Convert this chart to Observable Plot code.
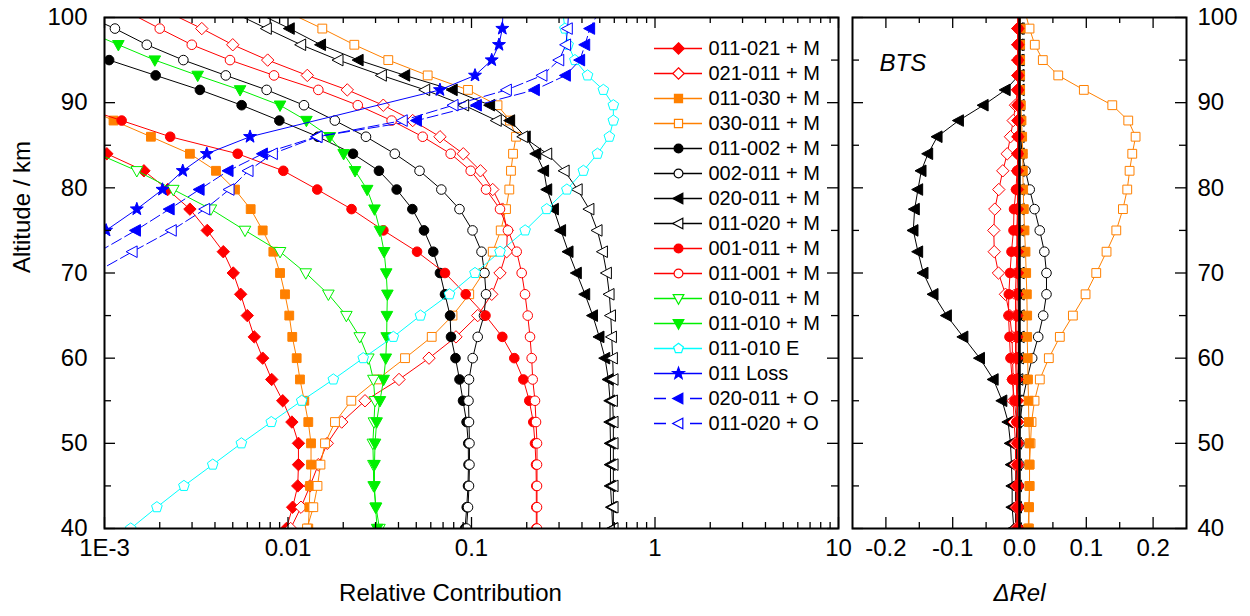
<!DOCTYPE html>
<html><head><meta charset="utf-8">
<script src="https://cdn.jsdelivr.net/npm/d3@7"></script>
<script src="https://cdn.jsdelivr.net/npm/@observablehq/plot@0.6"></script>
<style>
html,body{margin:0;padding:0;background:#fff;}
#wrap{position:relative;width:1250px;height:616px;overflow:hidden;background:#fff;}
</style></head><body><div id="wrap"></div>
<script>
// ---------- DATA ----------
const altitude = [40,42.5,45,47.5,50,52.5,55,57.5,60,62.5,65,67.5,70,72.5,75,77.5,79.8,82,84,86,87.9,89.7,91.5,93.2,95,96.8,98.7,100.5];

// Relative contribution (left panel), one value per altitude (null = not drawn)
const rel_011_021_M = [0.0098,0.0106,0.0113,0.0114,0.0114,0.0105,0.00936,0.00815,0.00728,0.00655,0.0060,0.00552,0.00503,0.00444,0.00363,0.00292,0.00221,0.00164,0.00103,0.00061,0.00036,null,null,null,null,null,null,null];
const rel_021_011_M = [0.01034,0.01177,0.01318,0.01463,0.01637,0.01962,0.02628,0.04027,0.05868,0.0823,0.1081,0.1289,0.143,0.1555,0.1567,0.1476,0.1305,0.1119,0.0902,0.06735,0.04781,0.03306,0.02104,0.01274,0.00775,0.005,0.00339,0.00228];
const rel_011_030_M = [0.0129,0.01306,0.01318,0.01335,0.01335,0.0129,0.01227,0.01162,0.01115,0.01055,0.01016,0.00963,0.00905,0.00832,0.00728,0.00626,0.00514,0.00405,0.00292,0.00179,0.00112,0.00074,null,null,null,null,null,null];
const rel_030_011_M = [0.01269,0.01374,0.01448,0.01503,0.01591,0.01803,0.02213,0.03074,0.04341,0.0607,0.0788,0.0972,0.116,0.1305,0.1443,0.1542,0.1607,0.1641,0.1684,0.1748,0.1621,0.1386,0.0957,0.0577,0.0352,0.02298,0.01538,0.01025];
const rel_011_002_M = [0.0922,0.0942,0.0957,0.0963,0.096,0.094,0.0899,0.086,0.0818,0.0773,0.0764,0.0717,0.0673,0.0619,0.0551,0.0476,0.0391,0.0313,0.0226,0.01457,0.00897,0.00559,0.00331,0.0019,0.00106,0.00059,null,null];
const rel_002_011_M = [0.0939,0.0957,0.0969,0.0975,0.0975,0.0969,0.0963,0.0969,0.1015,0.1081,0.117,0.12,0.1177,0.1134,0.1013,0.086,0.0685,0.0521,0.0382,0.0266,0.018,0.01222,0.00765,0.00458,0.00269,0.0017,0.00114,0.00074];
const rel_020_011_M = [0.588,0.581,0.572,0.572,0.572,0.569,0.569,0.557,0.534,0.497,0.458,0.4155,0.374,0.337,0.307,0.2805,0.258,0.248,0.2247,0.197,0.162,0.126,0.0788,0.0434,0.0242,0.0151,0.0102,0.00686];
const rel_011_020_M = [0.593,0.593,0.593,0.593,0.593,0.593,0.588,0.593,0.588,0.581,0.574,0.564,0.5455,0.519,0.485,0.438,0.378,0.321,0.258,0.191,0.137,0.091,0.0558,0.0324,0.0188,0.01177,0.00765,0.00514];
const rel_001_011_M = [0.2255,0.2255,0.2255,0.2247,0.2218,0.2171,0.2065,0.1916,0.1711,0.1472,0.1192,0.093,0.0717,0.0505,0.0331,0.0222,0.01443,0.00943,0.00532,0.00228,0.00124,0.00069,null,null,null,null,null,null];
const rel_011_001_M = [0.2275,0.2275,0.2275,0.2275,0.2275,0.2247,0.2218,0.2155,0.2128,0.2084,0.2025,0.1957,0.1877,0.1763,0.158,0.143,0.12,0.099,0.077,0.0542,0.0367,0.024,0.01463,0.00839,0.00483,0.00299,0.002,0.00138];
const rel_010_011_M = [0.0315,0.0302,0.0293,0.0292,0.029,0.0294,0.0298,0.0292,0.0274,0.0246,0.0208,0.0166,0.0125,0.00905,0.00583,0.0038,0.00237,0.0015,0.00092,0.00057,null,null,null,null,null,null,null,null];
const rel_011_010_M = [0.0306,0.03,0.0296,0.0296,0.0298,0.0304,0.0317,0.0332,0.0341,0.0345,0.0346,0.0348,0.0343,0.0334,0.0317,0.0296,0.027,0.0232,0.0201,0.0169,0.0126,0.00905,0.00548,0.00322,0.00188,0.00119,0.00074,null];
const rel_011_010_E = [0.00139,0.00193,0.00271,0.00389,0.00557,0.00811,0.01188,0.01766,0.0257,0.0375,0.0527,0.0759,0.1045,0.143,0.196,0.257,0.331,0.407,0.486,0.564,0.593,0.593,0.523,0.429,0.366,0.336,0.323,0.315];
const rel_011_Loss  = [null,null,null,null,null,null,null,null,null,null,null,null,null,0.00069,0.00102,0.0015,0.00207,0.00267,0.00361,0.00621,null,null,0.0673,0.1045,0.1289,0.1412,0.1472,0.1484];
const rel_020_011_O = [null,null,null,null,null,null,null,null,null,null,null,null,null,0.00093,0.00148,0.00226,0.00329,0.00473,0.00728,0.01434,0.0503,0.1067,0.221,0.326,0.39,0.4155,0.442,0.489];
const rel_011_020_O = [null,null,null,null,null,null,null,null,null,null,null,null,0.00088,0.00142,0.00232,0.00353,0.00479,0.00608,0.00825,0.01448,0.0421,0.0796,0.1555,0.243,0.30,0.327,0.334,0.338];

// Delta relative contribution, BTS (right panel)
const d_011_021_M = [-0.003,-0.003,-0.003,-0.003,-0.003,-0.003,-0.003,-0.0035,-0.004,-0.004,-0.004,-0.0035,-0.003,-0.003,-0.003,-0.003,-0.003,-0.003,-0.003,-0.0025,-0.0025,-0.0025,-0.0025,-0.0025,-0.0025,-0.0025,-0.0025,-0.0025];
const d_021_011_M = [-0.005,-0.005,-0.005,-0.006,-0.006,-0.008,-0.0094,-0.0094,-0.0105,-0.0112,-0.0145,-0.021,-0.0315,-0.0378,-0.0385,-0.037,-0.031,-0.025,-0.0184,-0.0135,-0.0094,-0.006,-0.003,-0.002,-0.002,-0.002,-0.002,-0.002];
const d_011_030_M = [0.013,0.014,0.015,0.015,0.015,0.014,0.0135,0.0127,0.0123,0.0115,0.0115,0.011,0.010,0.009,0.0075,0.0065,0.0055,0.005,0.005,0.004,0.003,0.002,0.001,0.001,0.001,0.001,0.001,0.001];
const d_030_011_M = [0.0142,0.0142,0.015,0.015,0.0165,0.018,0.0225,0.0304,0.0439,0.0604,0.0799,0.0989,0.1149,0.1303,0.1449,0.1548,0.1613,0.1648,0.1688,0.1738,0.1628,0.1389,0.0963,0.058,0.0349,0.0229,0.015,0.009];
const d_011_002_M = [-0.006,-0.006,-0.006,-0.005,-0.005,-0.004,-0.003,-0.002,-0.001,-0.001,-0.001,-0.001,-0.001,-0.001,-0.001,-0.001,-0.001,-0.001,-0.001,-0.001,-0.001,-0.001,-0.001,-0.001,-0.001,-0.001,-0.001,-0.001];
const d_002_011_M = [-0.001,-0.001,-0.001,0,0,0.001,0.0045,0.0112,0.019,0.028,0.0355,0.0404,0.0404,0.0372,0.0303,0.0225,0.0153,0.009,0.0037,0.002,0.001,0,0,0,0,0,0,0];
const d_020_011_M = [-0.0085,-0.011,-0.011,-0.012,-0.0135,-0.017,-0.026,-0.039,-0.0595,-0.0843,-0.109,-0.129,-0.144,-0.152,-0.159,-0.157,-0.152,-0.147,-0.137,-0.123,-0.091,-0.054,-0.021,-0.001,-0.002,-0.002,-0.002,-0.002];
const d_011_020_M = [-0.004,-0.004,-0.004,-0.004,-0.004,-0.004,-0.003,-0.002,-0.001,0,0,0,0,0,0,0,0,0,0,0,0,0,0,0,0,0,0,0];
const d_001_011_M = [-0.002,-0.002,-0.002,-0.003,-0.003,-0.0045,-0.0075,-0.011,-0.0135,-0.015,-0.0165,-0.016,-0.0142,-0.012,-0.009,-0.0082,-0.0052,-0.0037,-0.002,-0.002,-0.002,-0.002,-0.002,-0.002,-0.002,-0.002,-0.002,-0.002];
const d_011_001_M = [-0.002,-0.002,-0.002,-0.002,-0.002,-0.003,-0.004,-0.005,-0.006,-0.006,-0.006,-0.006,-0.005,-0.004,-0.004,-0.003,-0.003,-0.002,-0.002,-0.002,-0.002,-0.002,-0.002,-0.002,-0.002,-0.002,-0.002,-0.002];

// Series legend / styling
const seriesNames   = ["011-021 + M","021-011 + M","011-030 + M","030-011 + M","011-002 + M","002-011 + M","020-011 + M","011-020 + M","001-011 + M","011-001 + M","010-011 + M","011-010 + M","011-010 E","011 Loss","020-011 + O","011-020 + O"];
const seriesColors  = ["#ff0000","#ff0000","#ff8000","#ff8000","#000000","#000000","#000000","#000000","#ff0000","#ff0000","#00f000","#00f000","#00ffff","#0000ff","#0000ff","#0000ff"];
const seriesSymbols = ["diamond","diamond","square","square","circle","circle","triLeft","triLeft","circle","circle","triDown","triDown","pentagon","star","triLeft","triLeft"];
const seriesFilled  = [true,false,true,false,true,false,true,false,true,false,false,true,false,true,true,false];
const seriesDashed  = [false,false,false,false,false,false,false,false,false,false,false,false,false,false,true,true];
const relValues = [rel_011_021_M,rel_021_011_M,rel_011_030_M,rel_030_011_M,rel_011_002_M,rel_002_011_M,rel_020_011_M,rel_011_020_M,rel_001_011_M,rel_011_001_M,rel_010_011_M,rel_011_010_M,rel_011_010_E,rel_011_Loss,rel_020_011_O,rel_011_020_O];
// right panel: series index -> values (drawing order)
const deltaOrder  = [7,4,6,5,3,1,9,2,8,0];
const deltaValues = {0:d_011_021_M,1:d_021_011_M,2:d_011_030_M,3:d_030_011_M,4:d_011_002_M,5:d_002_011_M,6:d_020_011_M,7:d_011_020_M,8:d_001_011_M,9:d_011_001_M};

// Ticks
const xMajorTicks  = [0.001,0.01,0.1,1,10];
const xMajorLabels = ["1E-3","0.01","0.1","1","10"];
const xMinorTicks  = [0.002,0.003,0.004,0.005,0.006,0.007,0.008,0.009,0.02,0.03,0.04,0.05,0.06,0.07,0.08,0.09,0.2,0.3,0.4,0.5,0.6,0.7,0.8,0.9,2,3,4,5,6,7,8,9];
const altMajorTicks = [40,50,60,70,80,90,100];
const altMinorTicks = [45,55,65,75,85,95];
const dMajorTicks  = [-0.2,-0.1,0,0.1,0.2];
const dMajorLabels = ["-0.2","-0.1","0.0","0.1","0.2"];
const dMinorTicks  = [-0.15,-0.05,0.05,0.15];

// ---------- SYMBOLS ----------
function mk(fn){ return {draw(ctx, size){ const k = Math.sqrt(size/Math.PI)/5; fn(ctx,k); }}; }
const SYM = {
  circle: mk((c,k)=>{ c.moveTo(4.8*k,0); c.arc(0,0,4.8*k,0,2*Math.PI); }),
  square: mk((c,k)=>{ c.rect(-4.4*k,-4.4*k,8.8*k,8.8*k); }),
  diamond: mk((c,k)=>{ c.moveTo(0,-6.2*k); c.lineTo(6.2*k,0); c.lineTo(0,6.2*k); c.lineTo(-6.2*k,0); c.closePath(); }),
  triLeft: mk((c,k)=>{ c.moveTo(-6.3*k,0); c.lineTo(4.7*k,-5.8*k); c.lineTo(4.7*k,5.8*k); c.closePath(); }),
  triDown: mk((c,k)=>{ c.moveTo(0,6.2*k); c.lineTo(-5.8*k,-4.2*k); c.lineTo(5.8*k,-4.2*k); c.closePath(); }),
  pentagon: mk((c,k)=>{ for(let i=0;i<5;i++){ const a=-Math.PI/2+i*2*Math.PI/5; const px=5.6*k*Math.cos(a), py=5.6*k*Math.sin(a); if(i) c.lineTo(px,py); else c.moveTo(px,py);} c.closePath(); }),
  star: mk((c,k)=>{ for(let i=0;i<10;i++){ const a=-Math.PI/2+i*Math.PI/5; const rr=(i%2?2.8:6.8)*k; const px=rr*Math.cos(a), py=rr*Math.sin(a); if(i) c.lineTo(px,py); else c.moveTo(px,py);} c.closePath(); })
};

const FONT = '"Liberation Sans", Arial, Helvetica, sans-serif';
const H = 616, mT = 17, mB = 88, innerH = H - mT - mB;

function profile(values){ return altitude.map((a,i)=>({alt:a, v:values[i]})).filter(d=>d.v!=null); }
function seriesMarks(i, values){
  const data = profile(values);
  const shown = data.filter(d=>d.alt<=100);
  const col = seriesColors[i];
  return [
    Plot.line(data, {x:"v", y:"alt", stroke:col, strokeWidth:1, strokeDasharray: seriesDashed[i] ? "11,4" : null, clip:true}),
    Plot.dot(shown, {x:"v", y:"alt", r:5, symbol:SYM[seriesSymbols[i]], fill: seriesFilled[i] ? col : "white", stroke:col, strokeWidth:1, clip:true})
  ];
}
function frameTicks(xMaj, xMin, innerW){
  const st = {stroke:"black", strokeWidth:1.3};
  return [
    Plot.tickX(xMaj, {x:d=>d, insetTop: innerH-11, ...st}),
    Plot.tickX(xMaj, {x:d=>d, insetBottom: innerH-11, ...st}),
    Plot.tickX(xMin, {x:d=>d, insetTop: innerH-6, ...st}),
    Plot.tickX(xMin, {x:d=>d, insetBottom: innerH-6, ...st}),
    Plot.tickY(altMajorTicks, {y:d=>d, insetRight: innerW-11, ...st}),
    Plot.tickY(altMajorTicks, {y:d=>d, insetLeft: innerW-11, ...st}),
    Plot.tickY(altMinorTicks, {y:d=>d, insetRight: innerW-7, ...st}),
    Plot.tickY(altMinorTicks, {y:d=>d, insetLeft: innerW-7, ...st})
  ];
}
const wrap = document.getElementById("wrap");
function place(svg, left, top){ svg.style.position="absolute"; svg.style.left=left+"px"; svg.style.top=top+"px"; svg.style.overflow="visible"; svg.style.background="transparent"; wrap.appendChild(svg); }

// ---------- LEFT PANEL ----------
const LW = 850, LmL = 104, LmR = 12, LinnerW = LW - LmL - LmR;
const leftMarks = [];
relValues.forEach((vals,i)=>leftMarks.push(...seriesMarks(i, vals)));
const left = Plot.plot({
  width: LW, height: H, marginLeft: LmL, marginRight: LmR, marginTop: mT, marginBottom: mB,
  style: {fontFamily: FONT, fontSize: "24px", background: "transparent", overflow: "visible", color: "black"},
  x: {type: "log", domain: [0.001, 10]},
  y: {domain: [40, 100]},
  marks: [
    ...leftMarks,
    ...frameTicks(xMajorTicks, xMinorTicks, LinnerW),
    Plot.frame({stroke:"black", strokeWidth:2}),
    Plot.axisX(xMajorTicks, {tickSize:0, tickPadding:10, tickFormat: d=>xMajorLabels[xMajorTicks.indexOf(d)], fontSize:24, label:null}),
    Plot.axisY(altMajorTicks, {tickSize:0, tickPadding:17, tickFormat: d=>String(d), fontSize:24, label:null}),
    Plot.text(["Altitude / km"], {text:d=>d, frameAnchor:"left", dx:-82, rotate:-90, fontSize:24}),
    Plot.text(["Relative Contribution"], {text:d=>d, frameAnchor:"bottom", dy:72, dx:-21, fontSize:24})
  ]
});
place(left, 0, 0);

// ---------- RIGHT PANEL ----------
const RW = 410, RmL = 12, RmR = 64, RinnerW = RW - RmL - RmR;
const rightMarks = [];
deltaOrder.forEach(i=>rightMarks.push(...seriesMarks(i, deltaValues[i])));
const right = Plot.plot({
  width: RW, height: H, marginLeft: RmL, marginRight: RmR, marginTop: mT, marginBottom: mB,
  style: {fontFamily: FONT, fontSize: "24px", background: "transparent", overflow: "visible", color: "black"},
  x: {domain: [-0.25, 0.25]},
  y: {domain: [40, 100]},
  marks: [
    ...rightMarks,
    Plot.ruleX([0], {stroke:"black", strokeWidth:2.5}),
    ...frameTicks(dMajorTicks, dMinorTicks, RinnerW),
    Plot.frame({stroke:"black", strokeWidth:2}),
    Plot.axisX(dMajorTicks, {tickSize:0, tickPadding:10, tickFormat: d=>dMajorLabels[dMajorTicks.indexOf(d)], fontSize:24, label:null}),
    Plot.axisY(altMajorTicks, {anchor:"right", tickSize:0, tickPadding:11, tickFormat: d=>String(d), fontSize:24, label:null}),
    Plot.text(["BTS"], {text:d=>d, frameAnchor:"top-left", dx:27, dy:36, textAnchor:"start", fontSize:24, fontStyle:"italic"}),
    Plot.text(["\u0394Rel"], {text:d=>d, frameAnchor:"bottom", dy:72, fontSize:24, fontStyle:"italic"})
  ]
});
place(right, 840, 0);

// ---------- LEGEND ----------
const legendMarks = [];
seriesNames.forEach((name,i)=>{
  const col = seriesColors[i];
  legendMarks.push(
    Plot.ruleY([name], {y:d=>d, stroke:col, strokeWidth:1.5, strokeDasharray: seriesDashed[i] ? "12,24" : null}),
    Plot.dot([name], {y:d=>d, frameAnchor:"middle", r:4.6, symbol:SYM[seriesSymbols[i]], fill: seriesFilled[i] ? col : "white", stroke:col, strokeWidth:1.2}),
    Plot.text([name], {y:d=>d, text:d=>d, frameAnchor:"right", dx:6, textAnchor:"start", fontSize:20, fill:"black"})
  );
});
const legend = Plot.plot({
  width: 200, height: 420, marginLeft: 14, marginRight: 138, marginTop: 22.7, marginBottom: 12.7,
  style: {fontFamily: FONT, background: "transparent", overflow: "visible", color: "black"},
  y: {type: "point", domain: seriesNames, padding: 0, axis: null},
  marks: legendMarks
});
place(legend, 640, 20);
</script></body></html>
